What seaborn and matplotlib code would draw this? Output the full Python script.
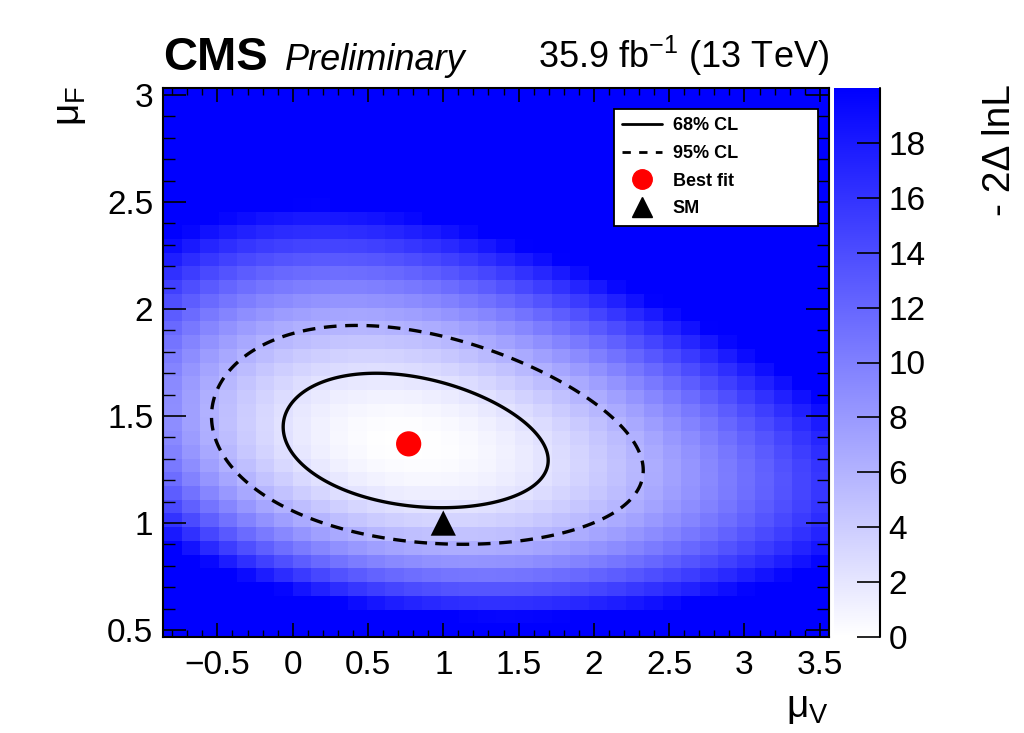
import numpy as np
import pandas as pd
import matplotlib
matplotlib.use("Agg")
import matplotlib.pyplot as plt
import seaborn as sns
from matplotlib.colors import LinearSegmentedColormap
from matplotlib.lines import Line2D
from matplotlib.ticker import MultipleLocator

# ---------------- data ----------------
# scan grid of the likelihood (bin centres)
mu_v_min, mu_v_max, n_mu_v = -0.8, 3.5, 36
mu_f_min, mu_f_max, n_mu_f = 0.5, 3.0, 40
# best-fit point and Standard Model point
best_fit = (0.77, 1.37)
sm_point = (1.0, 1.0)
# shape of the -2 Delta lnL surface around the minimum
sigma_v, sigma_f, rho = 0.577, 0.206, -0.25
skew_v, skew_f = 0.06, 0.16
# confidence levels (-2 Delta lnL thresholds)
cl_levels = [2.30, 5.99]
cl_labels = ["68% CL", "95% CL"]
x_ticks = [-0.5, 0, 0.5, 1, 1.5, 2, 2.5, 3, 3.5]
y_ticks = [0.5, 1, 1.5, 2, 2.5, 3]
z_ticks = [0, 2, 4, 6, 8, 10, 12, 14, 16, 18]
z_max = 20


def nll(mv, mf):
    u = mv - best_fit[0]
    v = mf - best_fit[1]
    g = (u - skew_v * u ** 2) / sigma_v
    h = (v - skew_f * v ** 2) / sigma_f
    return (g ** 2 - 2 * rho * g * h + h ** 2) / (1 - rho ** 2)


mu_v = np.linspace(mu_v_min, mu_v_max, n_mu_v)
mu_f = np.linspace(mu_f_min, mu_f_max, n_mu_f)
MV, MF = np.meshgrid(mu_v, mu_f)
Z = nll(MV, MF)
# finer evaluation for smooth contours
mu_v_fine = np.linspace(mu_v_min, mu_v_max, 400)
mu_f_fine = np.linspace(mu_f_min, mu_f_max, 400)
MVf, MFf = np.meshgrid(mu_v_fine, mu_f_fine)
Zf = nll(MVf, MFf)

# ---------------- style ----------------
sns.set_style("ticks")
plt.rcParams["font.family"] = ["Liberation Sans", "DejaVu Sans"]
plt.rcParams["mathtext.fontset"] = "custom"
plt.rcParams["mathtext.rm"] = "Liberation Sans"
plt.rcParams["mathtext.it"] = "Liberation Sans:italic"
plt.rcParams["mathtext.bf"] = "Liberation Sans:bold"
plt.rcParams["lines.dashed_pattern"] = [3.8, 2.6]
plt.rcParams["axes.axisbelow"] = False
for key in ["text.color", "axes.labelcolor", "xtick.color", "ytick.color",
            "axes.edgecolor"]:
    plt.rcParams[key] = "black"

fig = plt.figure(figsize=(10.24, 7.33), dpi=100, facecolor="white")
ax = fig.add_axes([163 / 1024, 1 - 637 / 733, 666 / 1024, 549 / 733])
cax = fig.add_axes([834 / 1024, 1 - 637 / 733, 46 / 1024, 549 / 733])
ax.set_axisbelow(False)

cmap = LinearSegmentedColormap.from_list("wb", [(1, 1, 1), (0, 0, 1)])
mesh = ax.pcolormesh(mu_v, mu_f, Z, shading="nearest", cmap=cmap,
                     vmin=0, vmax=z_max, rasterized=True, zorder=0)

ax.contour(mu_v_fine, mu_f_fine, Zf, levels=[cl_levels[0]], colors="black",
           linewidths=2.4, linestyles="solid", zorder=2)
ax.contour(mu_v_fine, mu_f_fine, Zf, levels=[cl_levels[1]], colors="black",
           linewidths=2.4, linestyles="dashed", zorder=2)

pts = pd.DataFrame({"mu_v": [best_fit[0]], "mu_f": [best_fit[1]]})
sns.scatterplot(data=pts, x="mu_v", y="mu_f", color="red", s=330,
                marker="o", edgecolor="none", ax=ax, zorder=5, legend=False)
sm = pd.DataFrame({"mu_v": [sm_point[0]], "mu_f": [sm_point[1]]})
sns.scatterplot(data=sm, x="mu_v", y="mu_f", color="black", s=330,
                marker="^", edgecolor="none", ax=ax, zorder=5, legend=False)

ax.set_xlim(mu_v_min - 0.5 * (mu_v[1] - mu_v[0]), mu_v_max + 0.5 * (mu_v[1] - mu_v[0]))
ax.set_ylim(mu_f_min - 0.5 * (mu_f[1] - mu_f[0]), mu_f_max + 0.5 * (mu_f[1] - mu_f[0]))
ax.set_xticks(x_ticks)
ax.set_xticklabels(["\u22120.5", "0", "0.5", "1", "1.5", "2", "2.5", "3", "3.5"])
ax.set_yticks(y_ticks)
ax.set_yticklabels(["0.5", "1", "1.5", "2", "2.5", "3"])
ax.xaxis.set_minor_locator(MultipleLocator(0.1))
ax.yaxis.set_minor_locator(MultipleLocator(0.1))
ax.set_xlabel("")
ax.set_ylabel("")
ax.tick_params(axis="x", which="major", direction="in", top=True, bottom=True,
               length=10, width=1.2, labelsize=24, pad=9, color="black",
               labelcolor="black")
ax.tick_params(axis="x", which="minor", direction="in", top=True, bottom=True,
               length=5, width=1.0, color="black")
ax.tick_params(axis="y", which="major", direction="in", left=True, right=True,
               length=16.5, width=1.2, labelsize=24, pad=7, color="black",
               labelcolor="black")
ax.tick_params(axis="y", which="minor", direction="in", left=True, right=True,
               length=8.5, width=1.0, color="black")
for s in ax.spines.values():
    s.set_linewidth(1.5)
    s.set_color("black")
    s.set_zorder(6)

# colorbar
cb = fig.colorbar(mesh, cax=cax)
cb.set_ticks(z_ticks)
cb.outline.set_visible(False)
cax.minorticks_off()
cax.set_axisbelow(False)
for coll in cax.collections:
    coll.set_zorder(0)
cax.tick_params(axis="y", which="major", direction="in", right=True, left=False,
                length=16.5, width=1.2, labelsize=24, pad=6, color="black",
                labelcolor="black")
cax.yaxis.set_zorder(5)
cax.plot([1, 1], [0, 1], transform=cax.transAxes, color="black", lw=1.5,
         clip_on=False, zorder=6)

# legend
handles = [
    Line2D([], [], color="black", lw=2.0, ls="solid"),
    Line2D([], [], color="black", lw=2.0, ls=(0, (3, 3))),
    Line2D([], [], color="red", marker="o", ls="none", markersize=14),
    Line2D([], [], color="black", marker="^", ls="none", markersize=14),
]
leg = ax.legend(handles, [cl_labels[0], cl_labels[1], "Best fit", "SM"],
                loc="upper left", bbox_to_anchor=(0.677, 0.962, 0.306, 0.0),
                mode="expand", frameon=True, fancybox=False, framealpha=1,
                edgecolor="black", prop={"weight": "bold", "size": 13},
                handlelength=2.2, handletextpad=0.6, labelspacing=0.6,
                borderpad=0.45, borderaxespad=0)
leg.get_frame().set_linewidth(1.3)
leg.set_zorder(7)

# texts
fig.text(163 / 1024, 1 - 70 / 733, "CMS", fontsize=34, fontweight="bold",
         ha="left", va="baseline")
fig.text(285 / 1024, 1 - 70 / 733, "Preliminary", fontsize=26, style="italic",
         ha="left", va="baseline")
fig.text(829 / 1024, 1 - 68 / 733, "35.9 fb$^{\\mathregular{-1}}$ (13 TeV)",
         fontsize=26, ha="right", va="baseline")
fig.text(70 / 1024, 1 - 86 / 733, "\u03bc$_{\\mathregular{F}}$", fontsize=28,
         rotation=90, ha="center", va="top")
fig.text(829 / 1024, 1 - 726 / 733, "\u03bc$_{\\mathregular{V}}$", fontsize=28,
         ha="right", va="bottom")
fig.text(1000 / 1024, 1 - 84 / 733, "- 2\u0394 lnL", fontsize=28,
         rotation=90, ha="center", va="top")

fig.savefig("out.png", dpi=100, facecolor="white")
